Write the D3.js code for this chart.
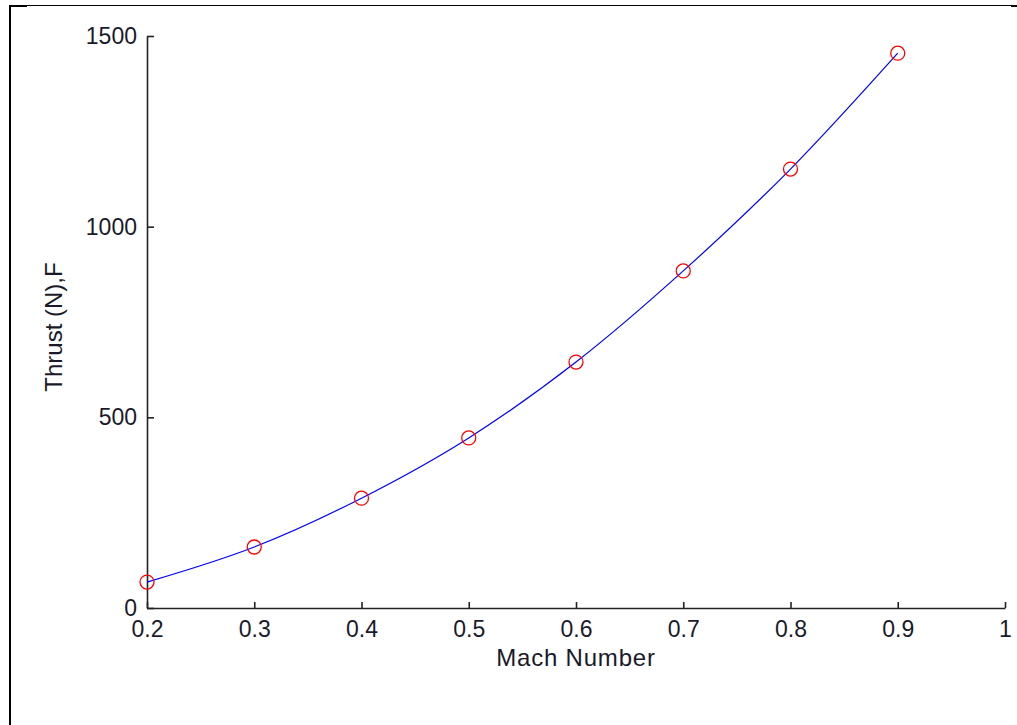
<!DOCTYPE html>
<html>
<head>
<meta charset="utf-8">
<script src="https://cdn.jsdelivr.net/npm/d3@7"></script>
<style>
html,body{margin:0;padding:0;background:#fff;}
svg{display:block;}
text{font-family:Arial,"Liberation Sans",sans-serif;fill:#1a1a2a;}
</style>
</head>
<body>
<svg id="chart" width="1017" height="725"></svg>
<script>
const machNumbers = [0.2, 0.3, 0.4, 0.5, 0.6, 0.7, 0.8, 0.9];
const thrustValues = [68, 160, 288, 446, 645, 884, 1151, 1455];
const xTicks = [0.2, 0.3, 0.4, 0.5, 0.6, 0.7, 0.8, 0.9, 1.0];
const yTicks = [0, 500, 1000, 1500];
const xLabel = "Mach Number";
const yLabel = "Thrust (N),F";

(function(){
const svg = d3.select("#chart");
const mLeft = 147, mRight = 1005, mTop = 36, mBottom = 608;

// outer frame
svg.append("line").attr("x1",10).attr("x2",10).attr("y1",5).attr("y2",725).attr("stroke","#000").attr("stroke-width",2);
svg.append("line").attr("x1",9).attr("x2",1011).attr("y1",5.5).attr("y2",5.5).attr("stroke","#000").attr("stroke-width",1);
svg.append("line").attr("x1",9).attr("x2",27).attr("y1",6).attr("y2",6).attr("stroke","#000").attr("stroke-width",2);
svg.append("line").attr("x1",1011).attr("x2",1017).attr("y1",6).attr("y2",6).attr("stroke","#000").attr("stroke-width",2);

const x = d3.scaleLinear().domain([0.2, 1.0]).range([mLeft, mRight]);
const y = d3.scaleLinear().domain([0, 1500]).range([mBottom, mTop]);

const fontFam = "Arial, 'Liberation Sans', sans-serif";
const xAxis = d3.axisBottom(x).tickValues(xTicks).tickSizeInner(-6).tickSizeOuter(0)
  .tickFormat(d => d === 1 ? "1" : d3.format(".1f")(d)).tickPadding(13);
const gx = svg.append("g").attr("transform", `translate(0,${mBottom})`).call(xAxis);
gx.select(".domain").attr("stroke","#222").attr("stroke-width",1.6);
gx.selectAll(".tick line").attr("stroke","#222").attr("stroke-width",1.6);
gx.selectAll(".tick text").attr("font-size",23).attr("font-family",fontFam).attr("fill","#1a1a2a");

const yAxis = d3.axisLeft(y).tickValues(yTicks).tickSizeInner(-7).tickSizeOuter(0)
  .tickFormat(d3.format("d")).tickPadding(10);
const gy = svg.append("g").attr("transform", `translate(${mLeft},0)`).call(yAxis);
gy.select(".domain").attr("stroke","#222").attr("stroke-width",1.6);
gy.selectAll(".tick line").attr("stroke","#222").attr("stroke-width",1.6);
gy.selectAll(".tick text").attr("font-size",23).attr("font-family",fontFam).attr("fill","#1a1a2a");

// labels
svg.append("text").attr("x", (mLeft+mRight)/2).attr("y", 666).attr("text-anchor","middle")
  .attr("font-size",24).attr("letter-spacing","0.8px").text(xLabel);
svg.append("text").attr("transform", `translate(62,${(mTop+mBottom)/2+5}) rotate(-90)`).attr("text-anchor","middle")
  .attr("font-size",24).text(yLabel);

const pts = machNumbers.map((m,i)=>[m, thrustValues[i]]);
const line = d3.line().x(d=>x(d[0])).y(d=>y(d[1])).curve(d3.curveMonotoneX);
svg.append("path").datum(pts).attr("d", line).attr("fill","none").attr("stroke","#0000ff").attr("stroke-width",1.2);

svg.selectAll("circle.pt").data(pts).enter().append("circle").attr("class","pt")
  .attr("cx",d=>x(d[0])).attr("cy",d=>y(d[1])).attr("r",7)
  .attr("fill","none").attr("stroke","#ff0000").attr("stroke-width",1.3);
})();
</script>
</body>
</html>
